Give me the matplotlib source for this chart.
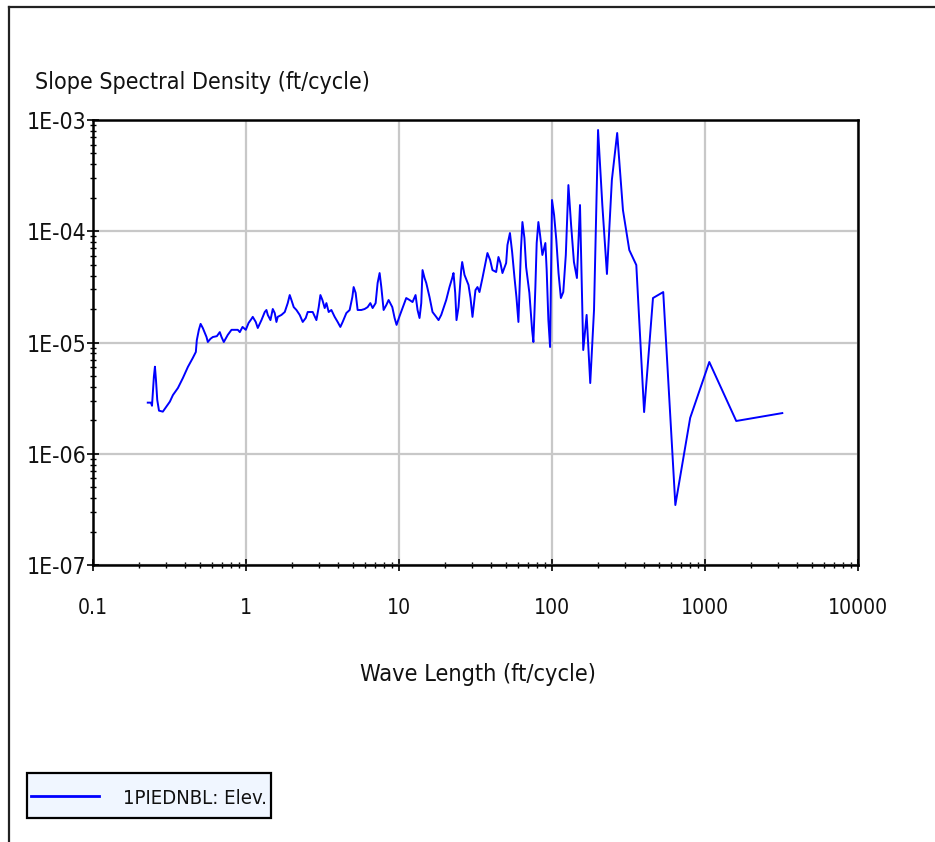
import os
import matplotlib
matplotlib.use("Agg")
import matplotlib.pyplot as plt
from matplotlib import font_manager as fm
from matplotlib.lines import Line2D
from matplotlib.patches import Rectangle
from matplotlib.ticker import LogLocator, NullFormatter, FixedLocator

# short wavelengths (log-averaged part of the spectrum)
wave_short = [0.228, 0.239, 0.243, 0.250, 0.254, 0.258, 0.263, 0.270, 0.286, 0.318,
              0.333, 0.359, 0.387, 0.417, 0.449, 0.470, 0.477, 0.492, 0.505, 0.522,
              0.552, 0.563, 0.586, 0.607, 0.645, 0.674, 0.692, 0.716, 0.760, 0.804,
              0.884, 0.911, 0.949, 0.997, 1.04, 1.086, 1.107, 1.158, 1.194, 1.262,
              1.326, 1.360, 1.388, 1.445, 1.496, 1.541, 1.581, 1.612, 1.705, 1.792,
              1.874, 1.931, 1.981, 2.051, 2.136, 2.244, 2.349, 2.457, 2.532, 2.729,
              2.885, 2.987, 3.064, 3.158, 3.269, 3.354, 3.471, 3.614, 3.798, 3.973,
              4.137, 4.283, 4.529, 4.759, 4.955, 5.053, 5.207, 5.366, 5.673, 5.962,
              6.237, 6.496, 6.725, 7.034, 7.249, 7.470, 7.663, 7.933, 8.26, 8.55,
              9.04, 9.36, 9.64, 10.09, 10.55, 11.15, 11.72, 12.26, 12.83, 13.22,
              13.62, 13.98, 14.25, 14.69, 15.07, 15.83, 16.56, 17.51, 18.13, 18.88,
              20.35, 21.38, 22.27, 22.71, 23.30, 23.76, 24.49, 25.50, 25.88, 26.80,
              28.46, 29.33, 30.22, 31.61, 32.58, 33.57, 35.12, 36.73, 37.85, 39.42,
              40.81, 43.15, 44.67, 46.03, 47.44, 50.15, 51.14, 53.10, 54.88, 56.81,
              58.55, 60.33, 62.64, 64.07, 66.03, 67.74, 71.14, 74.11, 75.57, 77.87,
              79.41, 81.47, 83.58, 86.52, 90.51, 92.30, 94.69, 97.14]
dens_short = [2.88e-6, 2.88e-6, 2.70e-6, 4.93e-6, 6.06e-6, 4.60e-6, 3.04e-6, 2.44e-6, 2.39e-6, 2.94e-6,
              3.37e-6, 3.90e-6, 4.80e-6, 6.03e-6, 7.26e-6, 8.22e-6, 1.05e-5, 1.30e-5, 1.47e-5, 1.35e-5,
              1.12e-5, 1.01e-5, 1.08e-5, 1.12e-5, 1.14e-5, 1.24e-5, 1.12e-5, 1.01e-5, 1.17e-5, 1.30e-5,
              1.30e-5, 1.24e-5, 1.38e-5, 1.30e-5, 1.50e-5, 1.63e-5, 1.70e-5, 1.53e-5, 1.35e-5, 1.59e-5,
              1.88e-5, 1.96e-5, 1.77e-5, 1.59e-5, 2.00e-5, 1.84e-5, 1.53e-5, 1.70e-5, 1.77e-5, 1.88e-5,
              2.26e-5, 2.67e-5, 2.41e-5, 2.08e-5, 1.96e-5, 1.77e-5, 1.53e-5, 1.66e-5, 1.88e-5, 1.88e-5,
              1.59e-5, 2.08e-5, 2.67e-5, 2.41e-5, 2.04e-5, 2.26e-5, 1.88e-5, 1.96e-5, 1.70e-5, 1.53e-5,
              1.38e-5, 1.53e-5, 1.84e-5, 1.96e-5, 2.56e-5, 3.15e-5, 2.79e-5, 1.96e-5, 1.96e-5, 2.00e-5,
              2.08e-5, 2.26e-5, 2.04e-5, 2.26e-5, 3.43e-5, 4.21e-5, 3.15e-5, 1.96e-5, 2.17e-5, 2.41e-5,
              2.08e-5, 1.66e-5, 1.44e-5, 1.73e-5, 2.04e-5, 2.51e-5, 2.41e-5, 2.31e-5, 2.67e-5, 1.96e-5,
              1.66e-5, 2.26e-5, 4.48e-5, 3.80e-5, 3.43e-5, 2.56e-5, 1.88e-5, 1.70e-5, 1.59e-5, 1.77e-5,
              2.41e-5, 3.15e-5, 3.80e-5, 4.21e-5, 2.79e-5, 1.59e-5, 2.08e-5, 4.48e-5, 5.29e-5, 4.05e-5,
              3.29e-5, 2.51e-5, 1.70e-5, 2.96e-5, 3.15e-5, 2.84e-5, 3.80e-5, 5.18e-5, 6.37e-5, 5.51e-5,
              4.48e-5, 4.30e-5, 5.87e-5, 5.18e-5, 4.21e-5, 5.18e-5, 7.52e-5, 9.64e-5, 6.51e-5, 3.88e-5,
              2.56e-5, 1.53e-5, 6.78e-5, 1.21e-4, 8.70e-5, 4.77e-5, 2.79e-5, 1.30e-5, 1.01e-5, 3.15e-5,
              7.84e-5, 1.21e-4, 9.25e-5, 6.12e-5, 7.84e-5, 4.48e-5, 1.59e-5, 9.11e-6]

# long wavelengths (raw harmonics of the record length)
wave_long = [100.0, 103.2, 106.7, 110.3, 114.3, 118.5, 123.1, 128.0, 133.3, 139.1,
             145.5, 152.4, 160.0, 168.4, 177.8, 188.2, 200.0, 213.3, 228.6, 246.2,
             266.7, 290.9, 320.0, 355.6, 400.0, 457.1, 533.3, 640.0, 800.0, 1066.7,
             1600.0, 3200.0]
dens_long = [1.91e-4, 1.40e-4, 8.34e-5, 4.21e-5, 2.51e-5, 2.84e-5, 6.12e-5, 2.60e-4, 1.14e-4, 5.29e-5,
             3.80e-5, 1.72e-4, 8.56e-6, 1.77e-5, 4.32e-6, 1.96e-5, 8.13e-4, 1.72e-4, 4.13e-5, 2.89e-4,
             7.64e-4, 1.55e-4, 6.78e-5, 4.97e-5, 2.37e-6, 2.51e-5, 2.84e-5, 3.46e-7, 2.10e-6, 6.68e-6,
             1.97e-6, 2.32e-6]

xticks = [0.1, 1, 10, 100, 1000, 10000]
xtick_labels = ["0.1", "1", "10", "100", "1000", "10000"]
yticks = [1e-7, 1e-6, 1e-5, 1e-4, 1e-3]
ytick_labels = ["1E-07", "1E-06", "1E-05", "1E-04", "1E-03"]
series_name = "1PIEDNBL: Elev."


def narrow_font():
    # pick a condensed sans face if the system has one
    wanted = ["NotoSans-ExtraCondensed.ttf", "NotoSans-Condensed.ttf",
              "LiberationSansNarrow-Regular.ttf", "NotoSans-SemiCondensed.ttf",
              "DejaVuSansCondensed.ttf", "OpenSans_Condensed-Regular.ttf",
              "RobotoCondensed-Regular.ttf"]
    files = {os.path.basename(f.fname): f.fname for f in fm.fontManager.ttflist}
    for name in wanted:
        if name in files:
            return fm.FontProperties(fname=files[name])
    return fm.FontProperties(family=["Liberation Sans", "DejaVu Sans"])


FP = narrow_font()
INK = "#111111"

W, H = 935, 842
fig = plt.figure(figsize=(W / 100, H / 100), dpi=100)
fig.patch.set_facecolor("white")

ax = fig.add_axes([93 / W, 1 - 565 / H, (858 - 93) / W, (565 - 120) / H])
wave = wave_short + wave_long
dens = dens_short + dens_long
ax.plot(wave, dens, color="#0000ff", lw=1.4)

ax.set_xscale("log")
ax.set_yscale("log")
ax.set_xlim(0.1, 10000)
ax.set_ylim(1e-7, 1e-3)

ax.xaxis.set_major_locator(FixedLocator(xticks))
ax.set_xticklabels(xtick_labels)
ax.yaxis.set_major_locator(FixedLocator(yticks))
ax.set_yticklabels(ytick_labels)
for axis in (ax.xaxis, ax.yaxis):
    axis.set_minor_locator(LogLocator(base=10, subs=range(2, 10), numticks=20))
    axis.set_minor_formatter(NullFormatter())

ax.tick_params(which="major", direction="inout", length=8, width=1.2, color="black",
               labelcolor=INK)
ax.tick_params(which="minor", direction="inout", length=5, width=1.0, color="black")
ax.tick_params(axis="y", which="major", pad=0.5)
ax.tick_params(axis="x", which="major", pad=19.5)

ax.grid(True, which="major", color="#c8c8c8", lw=1.6)
ax.set_axisbelow(True)
for s in ax.spines.values():
    s.set_color("black")
    s.set_linewidth(1.8)

title = fig.text(35 / W, 1 - 89 / H, "Slope Spectral Density (ft/cycle)",
                 fontproperties=FP, color=INK, ha="left", va="baseline")
xlab = fig.text(478 / W, 1 - 681 / H, "Wave Length (ft/cycle)",
                fontproperties=FP, color=INK, ha="center", va="baseline")

# outer panel frame (top and left edges)
fig.add_artist(Line2D([9 / W, 9 / W], [0, 1 - 7 / H], transform=fig.transFigure,
                      color="#222222", lw=1.6))
fig.add_artist(Line2D([9 / W, 1], [1 - 7 / H, 1 - 7 / H], transform=fig.transFigure,
                      color="#222222", lw=1.6))

# series key box
fig.add_artist(Rectangle((27 / W, 1 - 818 / H), (271 - 27) / W, (818 - 773) / H,
                         transform=fig.transFigure, facecolor="#f0f6ff",
                         edgecolor="black", lw=1.6))
fig.add_artist(Line2D([31 / W, 99 / W], [1 - 796 / H, 1 - 796 / H],
                      transform=fig.transFigure, color="#0000ff", lw=2.0))
key = fig.text(123 / W, 1 - 804 / H, series_name, fontproperties=FP, color=INK,
               ha="left", va="baseline")

ticklabels = list(ax.get_xticklabels()) + list(ax.get_yticklabels())
for t in ticklabels:
    t.set_fontproperties(FP)


def fit(texts, target_px, max_pt):
    # size the texts so their width matches the target
    for t in texts:
        t.set_fontsize(20)
    fig.canvas.draw()
    r = fig.canvas.get_renderer()
    w = max(t.get_window_extent(r).width for t in texts)
    size = min(20 * target_px / w, max_pt)
    for t in texts:
        t.set_fontsize(size)


fig.canvas.draw()
fit([title], 335, 25)
fit([xlab], 236, 25)
fit([key], 145, 24)
fit(list(ax.get_yticklabels()), 60, 23)
fit(list(ax.get_xticklabels()), 60, 23)

fig.savefig("out.png", dpi=100)
